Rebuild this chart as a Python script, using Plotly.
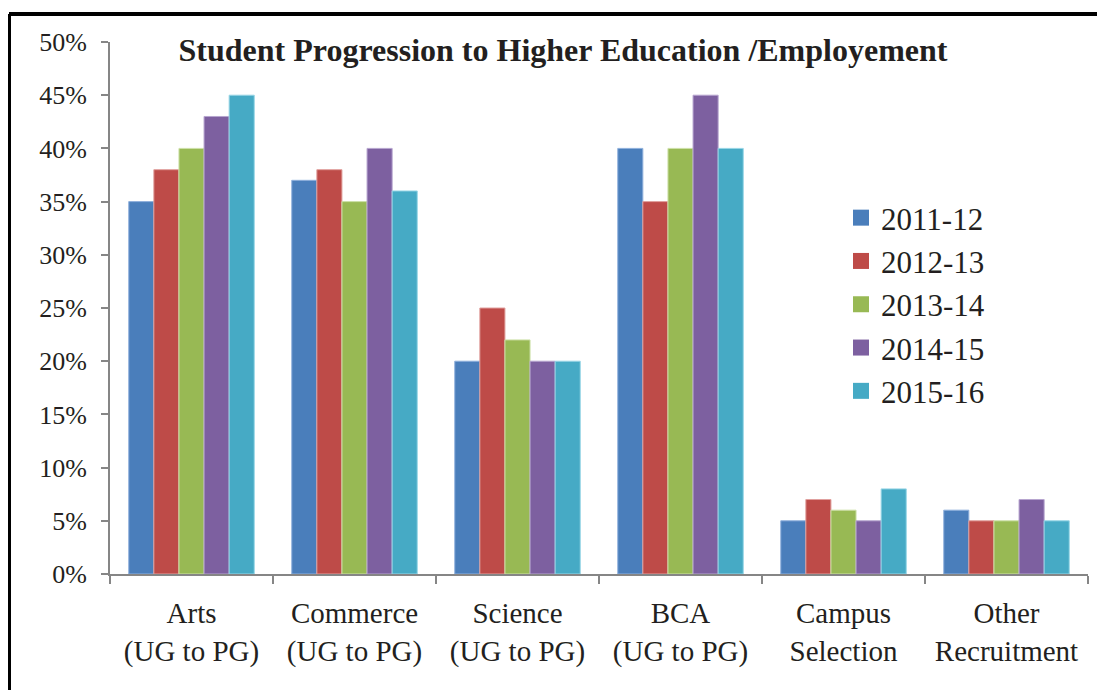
import plotly.graph_objects as go

# 類別 / 年度 / 數值（百分比）
categories = [
    "Arts<br>(UG to PG)",
    "Commerce<br>(UG to PG)",
    "Science<br>(UG to PG)",
    "BCA<br>(UG to PG)",
    "Campus<br>Selection",
    "Other<br>Recruitment",
]
years = ["2011-12", "2012-13", "2013-14", "2014-15", "2015-16"]

v_2011_12 = [0.35, 0.37, 0.20, 0.40, 0.05, 0.06]
v_2012_13 = [0.38, 0.38, 0.25, 0.35, 0.07, 0.05]
v_2013_14 = [0.40, 0.35, 0.22, 0.40, 0.06, 0.05]
v_2014_15 = [0.43, 0.40, 0.20, 0.45, 0.05, 0.07]
v_2015_16 = [0.45, 0.36, 0.20, 0.40, 0.08, 0.05]

series = [v_2011_12, v_2012_13, v_2013_14, v_2014_15, v_2015_16]
colors = ["#4a7ebb", "#be4b48", "#98b954", "#7d60a0", "#46aac5"]
edges = ["#8fb0dc", "#e0a09e", "#cde0a8", "#b7a5cf", "#98d6e6"]

FONT = "'Liberation Serif', 'Times New Roman', serif"
# 頁面本身有 8px 邊距，圖從 (8, 8) 開始
OFF = 8
W, H = 1105 - OFF, 690 - OFF
L, R, T, B = 110 - OFF, 17, 42 - OFF, 116

fig = go.Figure()

# =====================
#   長條
# =====================
for name, vals, c, e in zip(years, series, colors, edges):
    fig.add_trace(
        go.Bar(
            x=categories,
            y=vals,
            name=name,
            marker=dict(color=c, line=dict(color=e, width=1)),
            showlegend=False,
        )
    )

# 圖例用的方塊（較大）
for name, c in zip(years, colors):
    fig.add_trace(
        go.Scatter(
            x=[None],
            y=[None],
            mode="markers",
            name=name,
            marker=dict(symbol="square", size=16, color=c),
        )
    )

# =====================
#   外框（上、左）
# =====================
pw = W - L - R
ph = H - T - B
bx = (9 - 110) / pw
by = (574 - 14) / ph
fig.add_shape(type="line", xref="paper", yref="paper", x0=bx, x1=1.2, y0=by, y1=by,
              line=dict(color="black", width=4))
fig.add_shape(type="line", xref="paper", yref="paper", x0=bx, x1=bx, y0=-0.5, y1=by,
              line=dict(color="black", width=4))

# =====================
#   Layout
# =====================
fig.update_layout(
    width=W,
    height=H,
    margin=dict(l=L, r=R, t=T, b=B),
    paper_bgcolor="white",
    plot_bgcolor="white",
    barmode="group",
    bargap=0.23,
    bargroupgap=0,
    font=dict(family=FONT, color="#231f20"),
    title=dict(
        text="<b>Student Progression to Higher Education /Employement</b>",
        font=dict(family=FONT, size=32, color="#231f20"),
        xref="container",
        yref="container",
        x=(563 - OFF) / W,
        xanchor="center",
        y=1 - (50 - OFF) / H,
        yanchor="middle",
    ),
    legend=dict(
        x=(841 - 110) / pw,
        y=(574 - 191) / ph,
        xanchor="left",
        yanchor="top",
        font=dict(family=FONT, size=31, color="#231f20"),
        bgcolor="rgba(0,0,0,0)",
        itemwidth=30,
    ),
    xaxis=dict(
        showline=True,
        linecolor="#868686",
        linewidth=2,
        ticks="outside",
        tickson="boundaries",
        ticklen=8,
        tickwidth=2,
        tickcolor="#868686",
        tickfont=dict(family=FONT, size=29, color="#231f20"),
        ticklabelstandoff=12,
        showgrid=False,
    ),
    yaxis=dict(
        range=[0, 0.5],
        dtick=0.05,
        tickformat=".0%",
        showline=True,
        linecolor="#868686",
        linewidth=2,
        ticks="outside",
        ticklen=7,
        tickwidth=2,
        tickcolor="#868686",
        tickfont=dict(family=FONT, size=26, color="#231f20"),
        ticklabelstandoff=9,
        showgrid=False,
        zeroline=False,
    ),
)

fig.write_html("out.html")
